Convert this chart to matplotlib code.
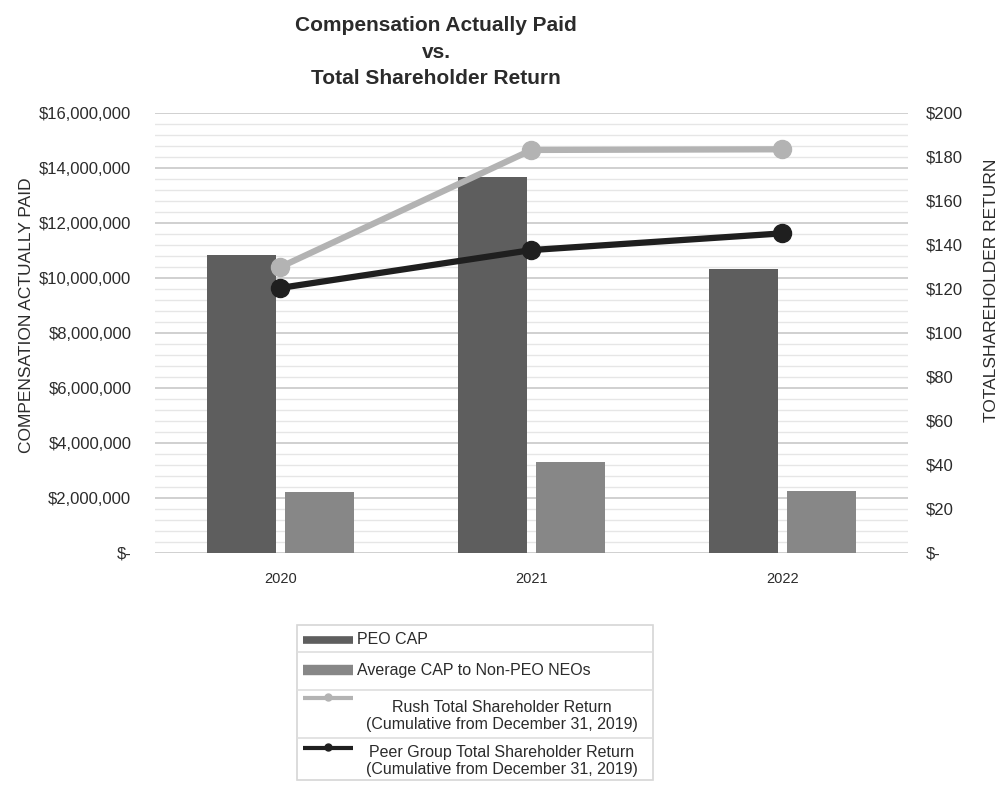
import matplotlib
matplotlib.use("Agg")
import matplotlib.pyplot as plt
from matplotlib.ticker import MultipleLocator, FuncFormatter
from matplotlib.patches import Rectangle
from matplotlib.lines import Line2D
import numpy as np

plt.rcParams['font.family'] = ['Liberation Sans', 'DejaVu Sans']

years = ["2020", "2021", "2022"]
peo_cap = [10.84e6, 13.66e6, 10.32e6]
neo_cap = [2.21e6, 3.32e6, 2.27e6]
rush_tsr = [130, 183.2, 183.5]
peer_tsr = [120.5, 137.7, 145.3]

left_ticks = np.arange(0, 16e6 + 1, 2e6)
right_ticks = np.arange(0, 201, 20)

legend_labels = ["PEO CAP",
                 "Average CAP to Non-PEO NEOs",
                 "Rush Total Shareholder Return\n(Cumulative from December 31, 2019)",
                 "Peer Group Total Shareholder Return\n(Cumulative from December 31, 2019)"]

C_PEO = "#5e5e5e"
C_NEO = "#878787"
C_RUSH = "#b3b3b3"
C_PEER = "#1f1f1f"
TXT = "#2b2b2b"

W, H = 1004, 785
fig = plt.figure(figsize=(W / 100, H / 100), dpi=100)

def fx(px):
    return px / W

def fy(py):
    return 1 - py / H

AX_L, AX_R, AX_T, AX_B = 155, 908, 113, 553
ax = fig.add_axes([fx(AX_L), fy(AX_B), fx(AX_R) - fx(AX_L), fy(AX_T) - fy(AX_B)])
ax2 = ax.twinx()

x = np.arange(len(years))
bw = 0.275
off = 0.157
ax.bar(x - off, peo_cap, width=bw, color=C_PEO, zorder=3)
ax.bar(x + off, neo_cap, width=bw, color=C_NEO, zorder=3)

ax.set_xlim(-0.5, 2.5)
ax.set_ylim(0, 16e6)
ax.set_yticks(left_ticks)
ax.yaxis.set_minor_locator(MultipleLocator(4e5))
ax.grid(which='minor', axis='y', color='#e6e6e6', linewidth=1.0, zorder=0)
ax.grid(which='major', axis='y', color='#cdcdcd', linewidth=1.3, zorder=0)
ax.set_axisbelow(True)
ax.yaxis.set_major_formatter(FuncFormatter(lambda v, p: "$-" if v == 0 else f"${v:,.0f}"))
ax.set_xticks(x)
ax.set_xticklabels(years, fontsize=10.5, color=TXT)
ax.tick_params(axis='x', length=0, pad=14)
ax.tick_params(axis='y', which='both', length=0, pad=17, labelsize=12, labelcolor=TXT)
for s in ax.spines.values():
    s.set_visible(False)
ax.set_ylabel("COMPENSATION ACTUALLY PAID", fontsize=12.5, color=TXT)
ax.yaxis.set_label_coords((34 - AX_L) / (AX_R - AX_L), (AX_B - 315) / (AX_B - AX_T))

ax2.plot(x, rush_tsr, color=C_RUSH, lw=4.5, marker='o', ms=13, zorder=5)
ax2.plot(x, peer_tsr, color=C_PEER, lw=4.5, marker='o', ms=13, zorder=6)
ax2.set_ylim(0, 200)
ax2.set_yticks(right_ticks)
ax2.yaxis.set_major_formatter(FuncFormatter(lambda v, p: "$-" if v == 0 else f"${v:,.0f}"))
ax2.tick_params(axis='y', length=0, pad=13, labelsize=12, labelcolor=TXT)
for s in ax2.spines.values():
    s.set_visible(False)
ax2.set_ylabel("TOTALSHAREHOLDER RETURN", fontsize=12.5, color=TXT)
ax2.yaxis.set_label_coords((984 - AX_L) / (AX_R - AX_L), (AX_B - 290) / (AX_B - AX_T))

fig.text(fx(436), fy(52), "Compensation Actually Paid\nvs.\nTotal Shareholder Return",
         ha='center', va='center', fontsize=15, fontweight='bold', color=TXT, linespacing=1.5)

# Legend (table-style)
fig.add_artist(Rectangle((fx(297), fy(780)), fx(653) - fx(297), fy(625) - fy(780),
                         transform=fig.transFigure, fill=False, edgecolor='#d6d6d6', lw=1.2))
for sep in [652, 690, 738]:
    fig.add_artist(Line2D([fx(297), fx(653)], [fy(sep), fy(sep)], transform=fig.transFigure,
                          color='#dedede', lw=1.2))
fig.add_artist(Line2D([fx(303), fx(353)], [fy(640), fy(640)], transform=fig.transFigure,
                      color=C_PEO, lw=5.5, solid_capstyle='butt'))
fig.add_artist(Line2D([fx(303), fx(353)], [fy(670), fy(670)], transform=fig.transFigure,
                      color=C_NEO, lw=7.5, solid_capstyle='butt'))
fig.add_artist(Line2D([fx(303), fx(353)], [fy(698), fy(698)], transform=fig.transFigure,
                      color=C_RUSH, lw=3, solid_capstyle='butt'))
fig.add_artist(Line2D([fx(328)], [fy(697)], transform=fig.transFigure,
                      color=C_RUSH, marker='o', ms=5, lw=0))
fig.add_artist(Line2D([fx(303), fx(353)], [fy(748), fy(748)], transform=fig.transFigure,
                      color=C_PEER, lw=3, solid_capstyle='butt'))
fig.add_artist(Line2D([fx(328)], [fy(747)], transform=fig.transFigure,
                      color=C_PEER, marker='o', ms=5, lw=0))
fig.text(fx(357), fy(640), legend_labels[0], ha='left', va='center', fontsize=11.5, color=TXT)
fig.text(fx(357), fy(670), legend_labels[1], ha='left', va='center', fontsize=11.5, color=TXT)
fig.text(fx(502), fy(716), legend_labels[2], ha='center', va='center', fontsize=11.5,
         color=TXT, multialignment='center', linespacing=1.2)
fig.text(fx(502), fy(761), legend_labels[3], ha='center', va='center', fontsize=11.5,
         color=TXT, multialignment='center', linespacing=1.2)

fig.savefig("out.png", dpi=100, facecolor='white')
